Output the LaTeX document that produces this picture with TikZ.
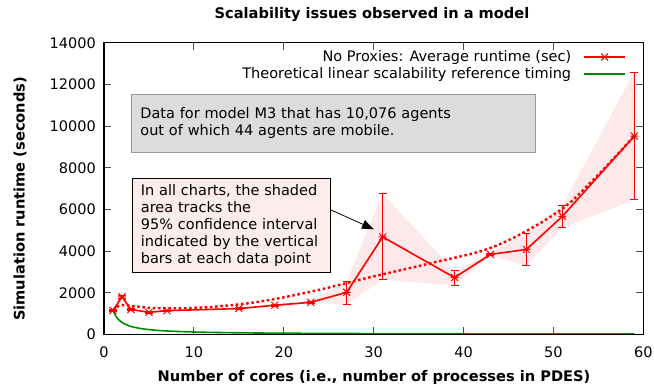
\documentclass[tikz,border=0pt]{standalone}
\usepackage{fontspec}
\setmainfont{DejaVu Sans}
\usetikzlibrary{arrows.meta}

\definecolor{ciband}{RGB}{253,233,233}
\definecolor{notepink}{RGB}{253,236,236}
\definecolor{notegray}{RGB}{220,220,220}
\definecolor{lineargreen}{RGB}{0,140,0}

\begin{document}
\begin{tikzpicture}[x=1pt,y=1pt,
  font=\fontsize{14.5}{17}\selectfont,
  runtime/.style={red,line width=1.6pt,line join=round},
  trend/.style={red,line width=2.4pt,dash pattern=on 2.6pt off 2.6pt},
  linear/.style={lineargreen,line width=1.6pt},
  errbar/.style={red,line width=0.9pt},
  tickmark/.style={black!70,line width=0.8pt},
  ticklabel/.style={inner sep=0pt},
  axislabel/.style={font=\fontsize{14.6}{17}\selectfont\bfseries},
  note/.style={draw,align=left,anchor=north west,inner xsep=9pt,line width=0.8pt},
  >={Triangle[length=12pt,width=9pt]}]
  \useasboundingbox (0,0) rectangle (654,387);

  \begin{scope}[shift={(104pt,52.6pt)},x=8.988pt,y=0.020833pt]
    % shaded 95% band
    \fill[ciband] (1,1180) -- (2,1860) -- (3,1240) -- (5,1100) -- (7,1170) -- (15,1280)
      -- (19,1460) -- (23,1590) -- (27,2540) -- (31,6750) -- (39,3050) -- (43,3900)
      -- (47,4840) -- (51,6190) -- (59,12600) -- (59,6460) -- (51,5130) -- (47,3300)
      -- (43,3780) -- (39,2350) -- (31,2620) -- (27,1460) -- (23,1490) -- (19,1340)
      -- (15,1200) -- (7,1110) -- (5,1020) -- (3,1160) -- (2,1740) -- (1,1120) -- cycle;

    \draw[linear] plot[domain=1:59,samples=200,smooth] (\x,{1150/\x});

    % bezier of the runtimes
    \draw[trend] plot[smooth,tension=0.6] coordinates {(1,1150) (1.74,1387) (2.67,1385)
      (5.74,1261) (10.66,1282) (16.71,1535) (23.07,2055) (29.66,2751) (36.56,3441)
      (43.46,4227) (50.28,5817) (54.15,7293) (59,9520)};

    \draw[runtime] (1,1150) -- (2,1800) -- (3,1200) -- (5,1060) -- (7,1140) -- (15,1240)
      -- (19,1400) -- (23,1540) -- (27,2020) -- (31,4680) -- (39,2730) -- (43,3840)
      -- (47,4080) -- (51,5670) -- (59,9520);

    \foreach \x/\y/\lo/\hi in {1/1150/1120/1180, 2/1800/1740/1860, 3/1200/1160/1240,
      5/1060/1020/1100, 7/1140/1110/1170, 15/1240/1200/1280, 19/1400/1340/1460,
      23/1540/1490/1590, 27/2020/1460/2540, 31/4680/2620/6750, 39/2730/2350/3050,
      43/3840/3780/3900, 47/4080/3300/4840, 51/5670/5130/6190, 59/9520/6460/12600}{
      \draw[errbar] (\x,\lo) -- (\x,\hi)
        ([xshift=-4pt]\x,\lo) -- ([xshift=4pt]\x,\lo)
        ([xshift=-4pt]\x,\hi) -- ([xshift=4pt]\x,\hi);
      \draw[red,line width=1pt] (\x,\y) +(-4pt,0pt) -- +(4pt,0pt)
        +(-3.5pt,-3.5pt) -- +(3.5pt,3.5pt) +(-3.5pt,3.5pt) -- +(3.5pt,-3.5pt);
    }

    % frame and ticks
    \foreach \v in {2000,4000,...,12000}{
      \draw[tickmark] (0,\v) -- ++(7pt,0pt);
      \draw[tickmark] (60,\v) -- ++(-7pt,0pt);
    }
    \foreach \x in {10,20,...,50}{
      \draw[tickmark] (\x,0) -- ++(0pt,7pt);
      \draw[tickmark] (\x,14000) -- ++(0pt,-7pt);
    }
    \draw[line width=1.3pt] (0,0) rectangle (60,14000);
    \foreach \v in {0,2000,...,14000}
      \node[ticklabel,anchor=east] at ([xshift=-8pt]0,\v) {\v};
    \foreach \x in {0,10,...,60}
      \node[ticklabel,anchor=north] at ([yshift=-12pt]\x,0) {\x};

    % legend
    \node[ticklabel,anchor=east] (legrun) at (52,13315) {No Proxies: Average runtime (sec)};
    \draw[runtime] (53.4,13315) -- (58,13315);
    \draw[red,line width=1pt] (55.7,13315) +(-4pt,0pt) -- +(4pt,0pt)
      +(-3.5pt,-3.5pt) -- +(3.5pt,3.5pt) +(-3.5pt,3.5pt) -- +(3.5pt,-3.5pt);
    \node[ticklabel,anchor=east] (leglin) at (52,12499) {Theoretical linear scalability reference timing};
    \draw[linear] (53.4,12499) -- (58,12499);
  \end{scope}

  \node[axislabel] (title) at (372,372) {Scalability issues observed in a model};
  \node[axislabel] (xlabel) at (374,10) {Number of cores (i.e., number of processes in PDES)};
  \node[axislabel,rotate=90] (ylabel) at (20,188) {Simulation runtime (seconds)};

  \node[note,fill=notegray,draw=black!40,text width=386pt,minimum height=58pt] (datanote)
    at (131,293) {Data for model M3 that has 10,076 agents\\out of which 44 agents are mobile.};
  \node[note,fill=notepink,text width=180pt,minimum height=94pt] (cinote)
    at (131.5,209.3) {In all charts, the shaded\\area tracks the\\95\% confidence interval\\indicated by the vertical\\bars at each data point};
  \coordinate (cipoint) at (374,157.7);
  \draw[->,line width=0.8pt] ([yshift=15.4pt]cinote.east) -- (cipoint);
\end{tikzpicture}
\end{document}
